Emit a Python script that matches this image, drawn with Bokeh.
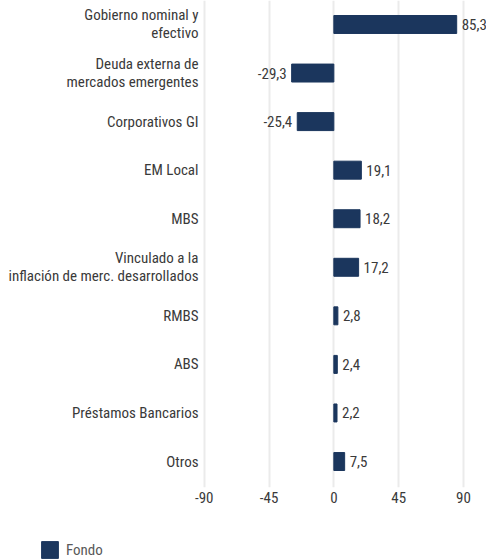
from bokeh.plotting import figure
from bokeh.layouts import column, row
from bokeh.models import ColumnDataSource, Range1d, FixedTicker, Legend, LegendItem
from bokeh.core.properties import value
from bokeh.embed import file_html
from bokeh.resources import INLINE

categories = [
    "Gobierno nominal y\nefectivo",
    "Deuda externa de\nmercados emergentes",
    "Corporativos GI",
    "EM Local",
    "MBS",
    "Vinculado a la\ninflación de merc. desarrollados",
    "RMBS",
    "ABS",
    "Préstamos Bancarios",
    "Otros",
]
values = [85.3, -29.3, -25.4, 19.1, 18.2, 17.2, 2.8, 2.4, 2.2, 7.5]
value_labels = ["85,3", "-29,3", "-25,4", "19,1", "18,2", "17,2", "2,8", "2,4", "2,2", "7,5"]
x_ticks = [-90, -45, 0, 45, 90]
x_tick_labels = ["-90", "-45", "0", "45", "90"]
series_name = "Fondo"

FONT = "'Roboto Condensed', 'DejaVu Sans Condensed', Roboto, sans-serif"
BAR = "#1b365d"
TXT = "#3a3a3a"
FS = "15px"

n = len(categories)
ypos = [n - 1 - i for i in range(n)]

pos_idx = [i for i, v in enumerate(values) if v >= 0]
neg_idx = [i for i, v in enumerate(values) if v < 0]

src = ColumnDataSource(dict(y=ypos, v=values))
src_pos = ColumnDataSource(dict(y=[ypos[i] for i in pos_idx], v=[values[i] for i in pos_idx],
                                t=[value_labels[i] for i in pos_idx]))
src_neg = ColumnDataSource(dict(y=[ypos[i] for i in neg_idx], v=[values[i] for i in neg_idx],
                                t=[value_labels[i] for i in neg_idx]))

p = figure(width=486, height=515, output_backend="svg", toolbar_location=None,
           x_range=Range1d(-91.2, 106), y_range=Range1d(-0.535, 9.494),
           min_border_left=202, min_border_right=0, min_border_top=0, min_border_bottom=28)
p.outline_line_color = None
p.background_fill_color = "white"

r = p.hbar(y="y", right="v", left=0, height=0.37, source=src, fill_color=BAR, line_color=BAR)

p.text(x="v", y="y", text="t", source=src_pos, x_offset=5, text_align="left", text_baseline="middle",
       text_font=value(FONT), text_font_size=FS, text_color=TXT)
p.text(x="v", y="y", text="t", source=src_neg, x_offset=-5, text_align="right", text_baseline="middle",
       text_font=value(FONT), text_font_size=FS, text_color=TXT)

p.xaxis.ticker = FixedTicker(ticks=x_ticks)
p.xaxis.major_label_overrides = dict(zip(x_ticks, x_tick_labels))
p.xaxis.axis_line_color = None
p.xaxis.major_tick_line_color = None
p.xaxis.minor_tick_line_color = None
p.xaxis.major_tick_out = 0
p.xaxis.major_label_standoff = 4
p.xaxis.major_label_text_font = FONT
p.xaxis.major_label_text_font_size = FS
p.xaxis.major_label_text_color = TXT

p.yaxis.ticker = FixedTicker(ticks=ypos)
p.yaxis.major_label_overrides = {ypos[i]: categories[i] for i in range(n)}
p.yaxis.axis_line_color = None
p.yaxis.major_tick_line_color = None
p.yaxis.minor_tick_line_color = None
p.yaxis.major_tick_out = 0
p.yaxis.major_label_standoff = 4
p.yaxis.major_label_text_font = FONT
p.yaxis.major_label_text_font_size = FS
p.yaxis.major_label_text_color = TXT
p.yaxis.major_label_text_line_height = 1.0

p.xgrid.grid_line_color = "#ebebeb"
p.xgrid.grid_line_width = 2
p.ygrid.grid_line_color = None

# legend strip below the chart
p2 = figure(width=486, height=45, output_backend="svg", toolbar_location=None,
            x_range=Range1d(0, 1), y_range=Range1d(0, 1),
            min_border_left=39, min_border_right=0, min_border_top=0, min_border_bottom=0)
p2.axis.visible = False
p2.grid.visible = False
p2.outline_line_color = None
r2 = p2.hbar(y=[0], right=[0], left=0, height=0, fill_color=BAR, line_color=BAR)
legend = Legend(items=[LegendItem(label=series_name, renderers=[r2])], location="bottom_left",
                orientation="horizontal", padding=0, margin=0, border_line_color=None,
                background_fill_alpha=0, glyph_width=21, glyph_height=21, label_height=21,
                label_standoff=6, label_text_font=FONT, label_text_font_size=FS,
                label_text_color="#595959")
p2.add_layout(legend, "center")

layout = column(p, row(p2), spacing=0)
open("out.html", "w").write(file_html(layout, INLINE))
